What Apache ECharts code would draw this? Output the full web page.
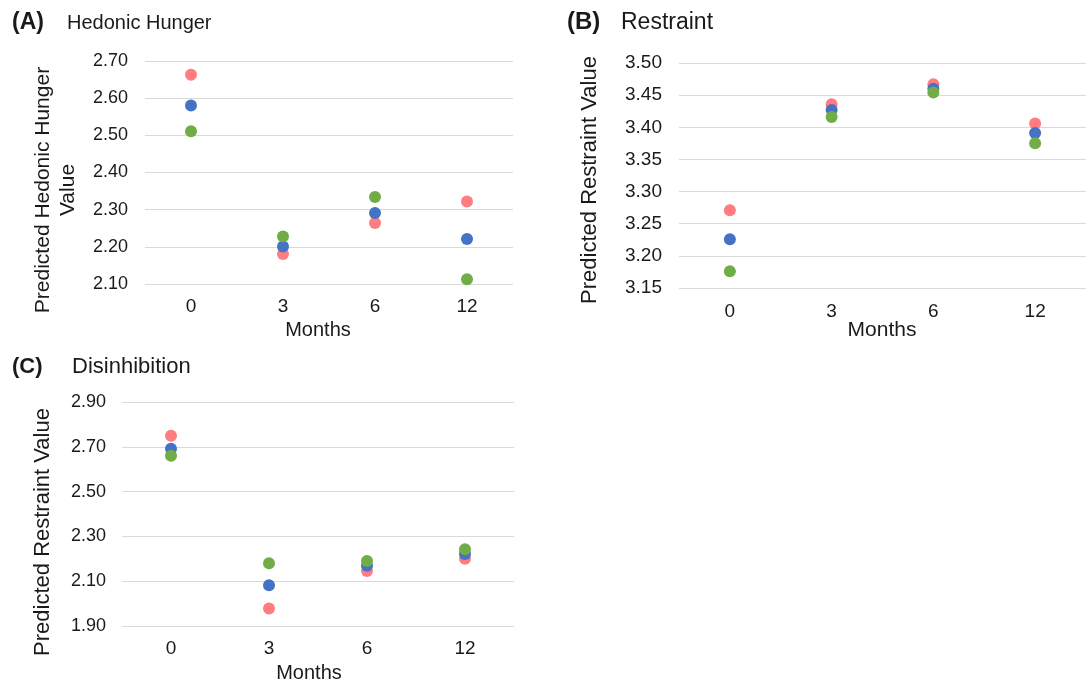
<!DOCTYPE html>
<html>
<head>
<meta charset="utf-8">
<script src="https://cdn.jsdelivr.net/npm/echarts@6/dist/echarts.min.js"></script>
<style>html,body{margin:0;padding:0;background:#fff;}#c{width:1086px;height:688px;}</style>
</head>
<body>
<div id="c"></div>
<script>
const months = ['0', '3', '6', '12'];
// Panel A: Hedonic Hunger
const hungerRed = [2.663, 2.181, 2.264, 2.322];
const hungerBlue = [2.580, 2.201, 2.291, 2.221];
const hungerGreen = [2.511, 2.228, 2.334, 2.113];
// Panel B: Restraint
const restraintRed = [3.271, 3.436, 3.467, 3.406];
const restraintBlue = [3.226, 3.427, 3.460, 3.391];
const restraintGreen = [3.176, 3.416, 3.454, 3.375];
// Panel C: Disinhibition
const disinhRed = [2.749, 1.978, 2.145, 2.200];
const disinhBlue = [2.691, 2.082, 2.169, 2.221];
const disinhGreen = [2.660, 2.180, 2.190, 2.243];

const RED = '#FF7C80', BLUE = '#4472C4', GREEN = '#70AD47';
const FONT = '"Liberation Sans", Arial, sans-serif';
const TXT = '#1a1a1a';
const GRIDC = '#D9D9D9';

const chart = echarts.init(document.getElementById('c'), null, {renderer: 'canvas'});

function xAx(gi, size, margin) {
  return {
    type: 'category', gridIndex: gi, data: months, boundaryGap: true,
    axisLine: {show: false}, axisTick: {show: false},
    axisLabel: {fontFamily: FONT, fontSize: size, color: TXT, margin: margin},
    splitLine: {show: false}
  };
}
function yAx(gi, min, max, interval, size, margin, fmt, colors) {
  return {
    type: 'value', gridIndex: gi, min: min, max: max, interval: interval,
    axisLine: {show: false}, axisTick: {show: false},
    axisLabel: {fontFamily: FONT, fontSize: size, color: TXT, margin: margin, formatter: fmt},
    splitLine: {show: true, lineStyle: {color: colors, width: 1.2}}
  };
}
function sc(gi, data, color) {
  return {
    type: 'scatter', xAxisIndex: gi, yAxisIndex: gi, data: data,
    symbol: 'circle', symbolSize: 12, itemStyle: {color: color, opacity: 1},
    emphasis: {disabled: true}, silent: true
  };
}

const fmt2 = v => v.toFixed(2);
const fmtC = v => (Math.round(v * 10) % 2 === 1 ? v.toFixed(2) : '');

function txt(x, y, text, size, opts) {
  opts = opts || {};
  return {
    type: 'text', x: x, y: y, rotation: opts.rot || 0, silent: true,
    style: {
      text: text, fill: TXT,
      font: (opts.bold ? 'bold ' : '') + size + 'px ' + FONT,
      textAlign: opts.align || 'left', textVerticalAlign: 'middle',
      lineHeight: opts.lh || size * 1.2
    }
  };
}

chart.setOption({
  animation: false,
  backgroundColor: '#fff',
  grid: [
    {left: 145, top: 61, width: 368, height: 223},
    {left: 679, top: 63, width: 412, height: 225},
    {left: 122, top: 402, width: 392, height: 224}
  ],
  xAxis: [xAx(0, 19, 13), xAx(1, 19, 14), xAx(2, 19, 13)],
  yAxis: [
    yAx(0, 2.1, 2.7, 0.1, 18, 17, fmt2, GRIDC),
    yAx(1, 3.15, 3.5, 0.05, 19, 17, fmt2, GRIDC),
    yAx(2, 1.9, 2.9, 0.1, 18, 16, fmtC, [GRIDC, 'rgba(0,0,0,0)'])
  ],
  series: [
    sc(0, hungerRed, RED), sc(0, hungerBlue, BLUE), sc(0, hungerGreen, GREEN),
    sc(1, restraintRed, RED), sc(1, restraintBlue, BLUE), sc(1, restraintGreen, GREEN),
    sc(2, disinhRed, RED), sc(2, disinhBlue, BLUE), sc(2, disinhGreen, GREEN)
  ],
  graphic: [
    txt(12, 23, '(A)', 23, {bold: true}),
    txt(67, 23, 'Hedonic Hunger', 20),
    txt(567, 22, '(B)', 24, {bold: true}),
    txt(621, 23, 'Restraint', 23),
    txt(12, 367, '(C)', 22, {bold: true}),
    txt(72, 367, 'Disinhibition', 22),
    txt(56, 190, 'Predicted Hedonic Hunger\nValue', 21, {rot: Math.PI / 2, align: 'center', lh: 25}),
    txt(590, 180, 'Predicted Restraint Value', 22, {rot: Math.PI / 2, align: 'center'}),
    txt(43, 532, 'Predicted Restraint Value', 22, {rot: Math.PI / 2, align: 'center'}),
    txt(318, 330, 'Months', 20, {align: 'center'}),
    txt(882, 330, 'Months', 21, {align: 'center'}),
    txt(309, 673, 'Months', 20, {align: 'center'})
  ]
});
</script>
</body>
</html>
